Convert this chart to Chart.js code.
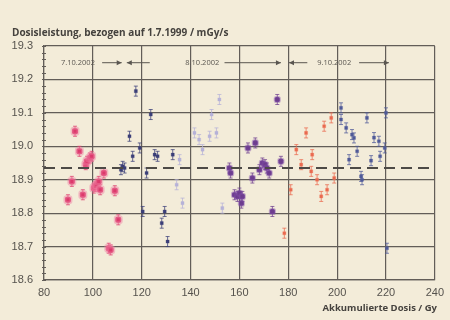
<!DOCTYPE html>
<html><head><meta charset="utf-8">
<script src="https://cdn.jsdelivr.net/npm/chart.js@4/dist/chart.umd.min.js"></script>
<style>html,body{margin:0;padding:0;background:#f3ecd9;}#wrap{width:450px;height:320px;position:relative}</style>
</head><body><div id="wrap"><canvas id="c" width="450" height="320"></canvas></div>
<script>
// ---- data ----
const pinkX = [89.8, 91.4, 92.7, 94.5, 95.9, 97.1, 97.6, 98.8, 99.5, 100.4, 101.0, 101.6, 102.4, 103.0, 104.5, 106.5, 107.3, 109.0, 110.4];
const pinkY = [18.84, 18.895, 19.045, 18.985, 18.855, 18.945, 18.955, 18.965, 18.97, 18.875, 18.88, 18.885, 18.895, 18.87, 18.92, 18.695, 18.69, 18.867, 18.78];
const navyX = [111.5, 112.2, 113.0, 115.0, 116.3, 117.6, 119.2, 120.4, 122.0, 123.7, 125.3, 126.5, 128.2, 129.4, 130.6, 132.7];
const navyY = [18.93, 18.94, 18.935, 19.03, 18.97, 19.165, 18.995, 18.805, 18.92, 19.095, 18.975, 18.97, 18.77, 18.805, 18.715, 18.975];
const lilacX = [134.3, 135.5, 136.7, 141.6, 143.5, 144.9, 147.8, 148.6, 150.6, 151.8, 153.0];
const lilacY = [18.885, 18.96, 18.83, 19.04, 19.02, 18.99, 19.03, 19.095, 19.04, 19.14, 18.815];
const purpleX = [155.9, 156.4, 158.0, 159.2, 160.0, 160.8, 161.2, 163.5, 165.3, 166.5, 168.2, 169.4, 170.5, 171.2, 172.2, 173.5, 175.5, 177.0];
const purpleY = [18.935, 18.92, 18.855, 18.85, 18.86, 18.83, 18.85, 18.995, 18.905, 19.01, 18.93, 18.95, 18.945, 18.935, 18.92, 18.805, 19.14, 18.955];
const orangeX = [178.4, 181.0, 183.3, 185.3, 187.3, 189.4, 189.8, 191.8, 193.5, 194.7, 195.9, 197.6, 198.8];
const orangeY = [18.74, 18.87, 18.99, 18.945, 19.04, 18.925, 18.975, 18.90, 18.85, 19.06, 18.87, 19.085, 18.905];
const blueX = [201.6, 201.6, 203.7, 204.9, 206.1, 206.9, 208.2, 209.8, 210.2, 212.2, 213.9, 215.1, 217.1, 217.6, 219.5, 220.0, 220.4];
const blueY = [19.115, 19.08, 19.055, 18.96, 19.035, 19.025, 18.985, 18.91, 18.90, 19.085, 18.957, 19.026, 19.015, 18.97, 18.995, 19.10, 18.695];
const errorHalf = 0.015;
const meanLevel = 18.935;
const xTicks = [80, 100, 120, 140, 160, 180, 200, 220, 240];
const yTicks = [18.6, 18.7, 18.8, 18.9, 19.0, 19.1, 19.2, 19.3];
const dayLabels = ['7.10.2002', '8.10.2002', '9.10.2002'];
const titleText = 'Dosisleistung, bezogen auf 1.7.1999 / mGy/s';
const xTitleText = 'Akkumulierte Dosis / Gy';

// ---- presentation ----
const dayLabelPos = [93.9, 144.8, 198.8];
const arrows = [[103.8, 111.8], [123.3, 113.9], [153.9, 177.0], [187.8, 180.3], [209.0, 221.2]];
const arrowLevel = 19.25;
const gridCol = '#625d58';

function pts(xs, ys){ return xs.map((x,i)=>({x:x, y:ys[i]})); }
function ds(label, xs, ys, fill, halo, r, style, bw){
  return {label, data: pts(xs, ys), backgroundColor: fill, borderColor: halo, pointRadius: r,
    pointStyle: style, borderWidth: bw, errColor: fill, showLine:false, order:1};
}

const errPlugin = {
  id:'err',
  beforeDatasetsDraw(chart){
    const {ctx, scales:{x, y}} = chart;
    ctx.save();
    chart.data.datasets.forEach(d=>{
      if(!d.errColor) return;
      ctx.strokeStyle = d.errColor; ctx.globalAlpha = 0.75; ctx.lineWidth = 1;
      d.data.forEach(p=>{
        const px = x.getPixelForValue(p.x);
        const y1 = y.getPixelForValue(p.y + errorHalf), y2 = y.getPixelForValue(p.y - errorHalf);
        ctx.beginPath();
        ctx.moveTo(px, y1); ctx.lineTo(px, y2);
        ctx.moveTo(px-2, y1); ctx.lineTo(px+2, y1);
        ctx.moveTo(px-2, y2); ctx.lineTo(px+2, y2);
        ctx.stroke();
      });
    });
    ctx.restore();
  }
};

const decoPlugin = {
  id:'deco',
  afterDraw(chart){
    const {ctx, scales:{x, y}, chartArea:a} = chart;
    ctx.save();
    // minor ticks on y axis
    ctx.strokeStyle = gridCol; ctx.lineWidth = 1;
    for(let v = 18.6; v <= 19.3001; v += 0.02){
      const py = Math.round(y.getPixelForValue(v)) + 0.5;
      ctx.beginPath(); ctx.moveTo(a.left - 2, py); ctx.lineTo(a.left + 2, py); ctx.stroke();
    }
    // title
    ctx.fillStyle = '#45423e';
    ctx.font = 'bold 10px "Open Sans"';
    ctx.textBaseline = 'middle'; ctx.textAlign = 'left';
    ctx.fillText(titleText, 12, 33);
    ctx.textAlign = 'right';
    ctx.font = 'bold 9.5px "Open Sans"';
    ctx.fillText(xTitleText, 437, 308);
    // day labels + arrows
    const ay = y.getPixelForValue(arrowLevel);
    ctx.font = '7.5px "Open Sans"'; ctx.fillStyle = '#5a5650'; ctx.textAlign = 'center';
    dayLabels.forEach((t,i)=> ctx.fillText(t, x.getPixelForValue(dayLabelPos[i]), ay));
    ctx.strokeStyle = '#5a5650'; ctx.fillStyle = '#5a5650'; ctx.lineWidth = 1;
    arrows.forEach(([from, to])=>{
      const x1 = x.getPixelForValue(from), x2 = x.getPixelForValue(to);
      const dir = Math.sign(x2 - x1);
      ctx.beginPath(); ctx.moveTo(x1, ay); ctx.lineTo(x2, ay); ctx.stroke();
      ctx.beginPath(); ctx.moveTo(x2, ay); ctx.lineTo(x2 - dir*5, ay - 2.5); ctx.lineTo(x2 - dir*5, ay + 2.5); ctx.closePath(); ctx.fill();
    });
    ctx.restore();
  }
};

new Chart(document.getElementById('c'), {
  type: 'scatter',
  data: { datasets: [
    {label:'Mittelwert', type:'line', data:[{x:xTicks[0], y:meanLevel},{x:xTicks[xTicks.length-1], y:meanLevel}],
      borderColor:'#4d4a46', borderWidth:2, borderDash:[11,6], pointRadius:0, order:0},
    ds('7.10.2002', pinkX, pinkY, '#dc3a6c', 'rgba(240,130,165,0.45)', 3.5, 'rectRounded', 3),
    ds('8.10.2002 a', navyX, navyY, '#3b3f78', 'rgba(59,63,120,0.3)', 2.2, 'rect', 1),
    ds('8.10.2002 b', lilacX, lilacY, '#b6b2d8', 'rgba(182,178,216,0.3)', 2.2, 'rect', 1),
    ds('8.10.2002 c', purpleX, purpleY, '#6d3d8e', 'rgba(130,80,170,0.4)', 3, 'rectRounded', 2),
    ds('9.10.2002 a', orangeX, orangeY, '#e9694f', 'rgba(240,130,100,0.35)', 2.2, 'rect', 1),
    ds('9.10.2002 b', blueX, blueY, '#4f5a98', 'rgba(90,100,160,0.3)', 2.2, 'rect', 1)
  ]},
  options: {
    responsive:false, animation:false,
    layout:{padding:{left:0, right:14, top:46, bottom:20}},
    plugins:{legend:{display:false}, tooltip:{enabled:false}},
    scales:{
      x:{type:'linear', min:xTicks[0], max:xTicks[xTicks.length-1],
        afterBuildTicks(s){ s.ticks = xTicks.map(v=>({value:v})); },
        afterFit(s){ s.height = 20; },
        grid:{color:gridCol, lineWidth:1.2, drawTicks:false},
        border:{color:gridCol, width:1.2},
        ticks:{padding:6, color:'#55524d', font:{family:'"Liberation Sans"', size:11}}},
      y:{type:'linear', min:yTicks[0], max:yTicks[yTicks.length-1],
        afterBuildTicks(s){ s.ticks = yTicks.map(v=>({value:v})); },
        afterFit(s){ s.width = 44; },
        grid:{color:gridCol, lineWidth:1.2, drawTicks:false},
        border:{color:gridCol, width:1.2},
        ticks:{padding:11, color:'#55524d', font:{family:'"Liberation Sans"', size:11},
          callback:v=>Number(v).toFixed(1)}}
    }
  },
  plugins:[errPlugin, decoPlugin]
});
</script></body></html>
